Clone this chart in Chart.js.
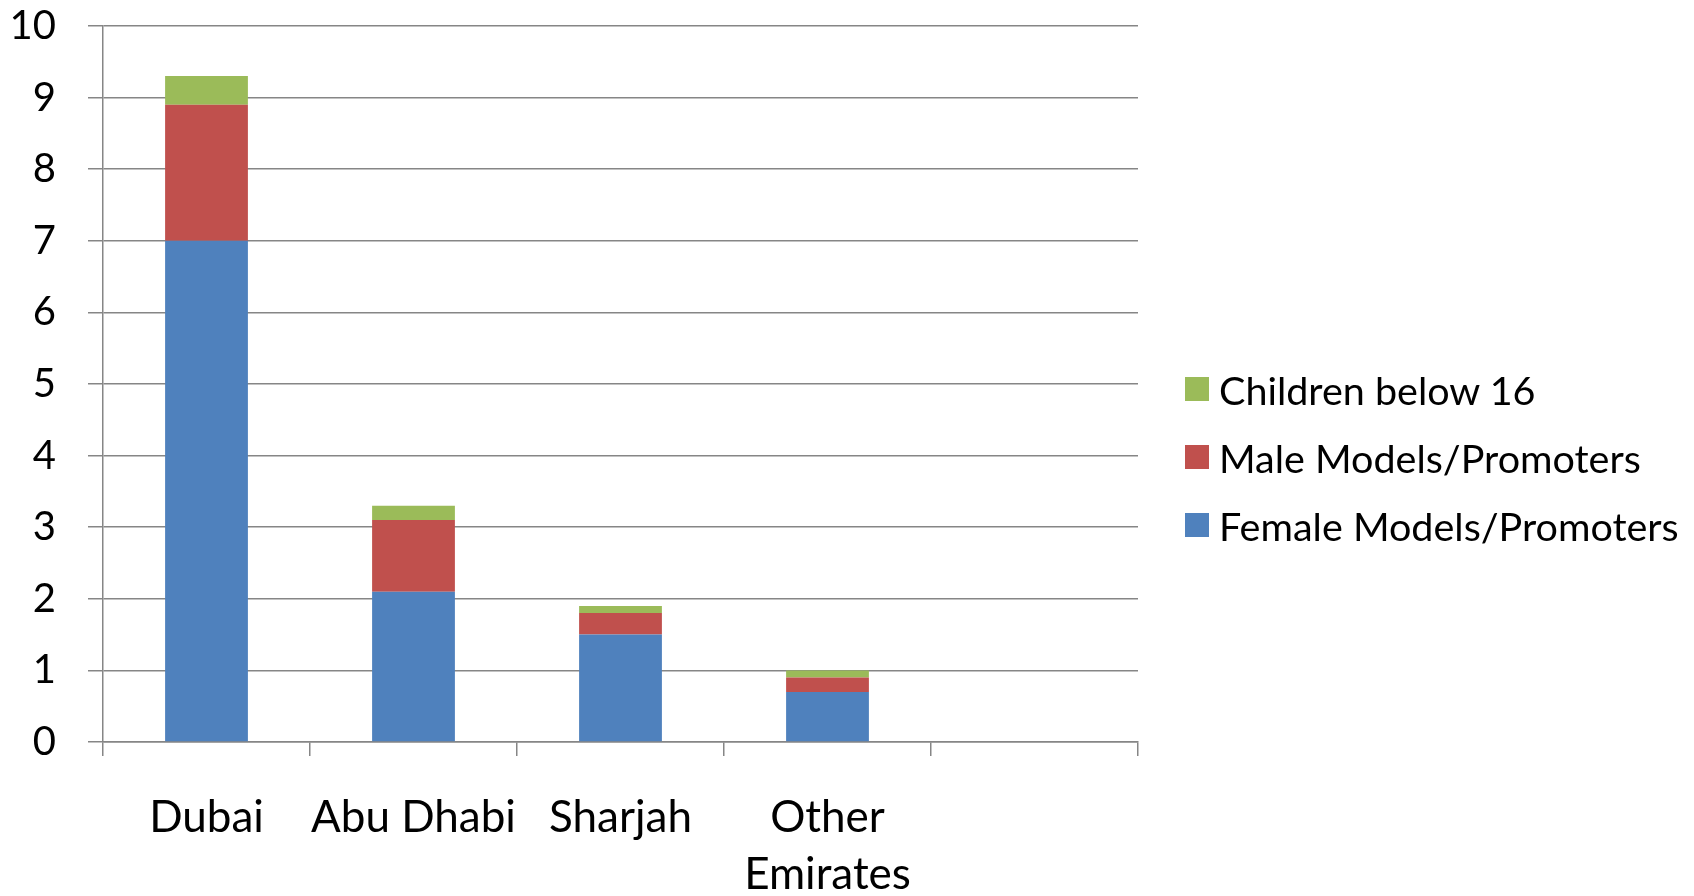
<!DOCTYPE html>
<html>
<head>
<meta charset="utf-8">
<script src="https://cdn.jsdelivr.net/npm/chart.js@4.4.0/dist/chart.umd.min.js"></script>
<style>
    html, body { margin: 0; padding: 0; background: #fff; }
    #wrap { position: relative; width: 1694px; height: 896px; }
    #legend { position: absolute; left: 1185px; top: 0; font-family: Lato, sans-serif; font-size: 39.5px; color: #000; }
    .leg-item { position: absolute; left: 0; white-space: nowrap; display: flex; align-items: center; }
    .leg-box { width: 24px; height: 24px; margin-right: 10px; }
</style>
</head>
<body>
<div id="wrap">
    <canvas id="c" width="1694" height="896"></canvas>
    <div id="legend"></div>
</div>
<script>
const categories = ['Dubai', 'Abu Dhabi', 'Sharjah', ['Other', 'Emirates'], ''];
const femaleModels = [7.0, 2.1, 1.5, 0.7, null];
const maleModels = [1.9, 1.0, 0.3, 0.2, null];
const childrenBelow16 = [0.4, 0.2, 0.1, 0.1, null];
const yTicks = [0, 1, 2, 3, 4, 5, 6, 7, 8, 9, 10];

const FONT = 'Lato, sans-serif';
const GRID = '#868686';

const datasets = [
    { label: 'Female Models/Promoters', data: femaleModels, backgroundColor: '#4F81BD' },
    { label: 'Male Models/Promoters', data: maleModels, backgroundColor: '#C0504D' },
    { label: 'Children below 16', data: childrenBelow16, backgroundColor: '#9BBB59' }
];

new Chart(document.getElementById('c').getContext('2d'), {
    type: 'bar',
    data: { labels: categories, datasets: datasets },
    options: {
        responsive: false,
        animation: false,
        layout: { padding: { top: 26, right: 556, left: 0, bottom: 0 } },
        datasets: { bar: { categoryPercentage: 1, barPercentage: 0.4 } },
        plugins: { legend: { display: false }, tooltip: { enabled: false } },
        scales: {
            x: {
                stacked: true,
                grid: { offset: true, drawOnChartArea: false, color: GRID, lineWidth: 1.5, tickLength: 14 },
                border: { color: GRID, width: 1.5 },
                ticks: { color: '#000', font: { family: FONT, size: 44, lineHeight: 1.3 }, padding: 33, maxRotation: 0, autoSkip: false },
                afterFit: s => { s.height = 154; s.paddingLeft = 0; s.paddingRight = 0; }
            },
            y: {
                stacked: true,
                min: 0, max: 10,
                afterBuildTicks: s => { s.ticks = yTicks.map(v => ({ value: v })); },
                grid: { color: GRID, lineWidth: 1.5, tickLength: 15 },
                border: { color: GRID, width: 1.5 },
                ticks: { color: '#000', font: { family: FONT, size: 40 }, padding: 32 },
                afterFit: s => { s.width = 103; s.paddingTop = 0; s.paddingBottom = 0; }
            }
        }
    }
});

// legend, reversed order like the original
const legend = document.getElementById('legend');
const rowY = [389, 457, 525];
datasets.slice().reverse().forEach((d, i) => {
    const item = document.createElement('div');
    item.className = 'leg-item';
    item.style.top = (rowY[i] - 25) + 'px';
    item.style.height = '50px';
    item.innerHTML = `<span class="leg-box" style="background:${d.backgroundColor}"></span><span>${d.label}</span>`;
    legend.appendChild(item);
});
</script>
</body>
</html>
